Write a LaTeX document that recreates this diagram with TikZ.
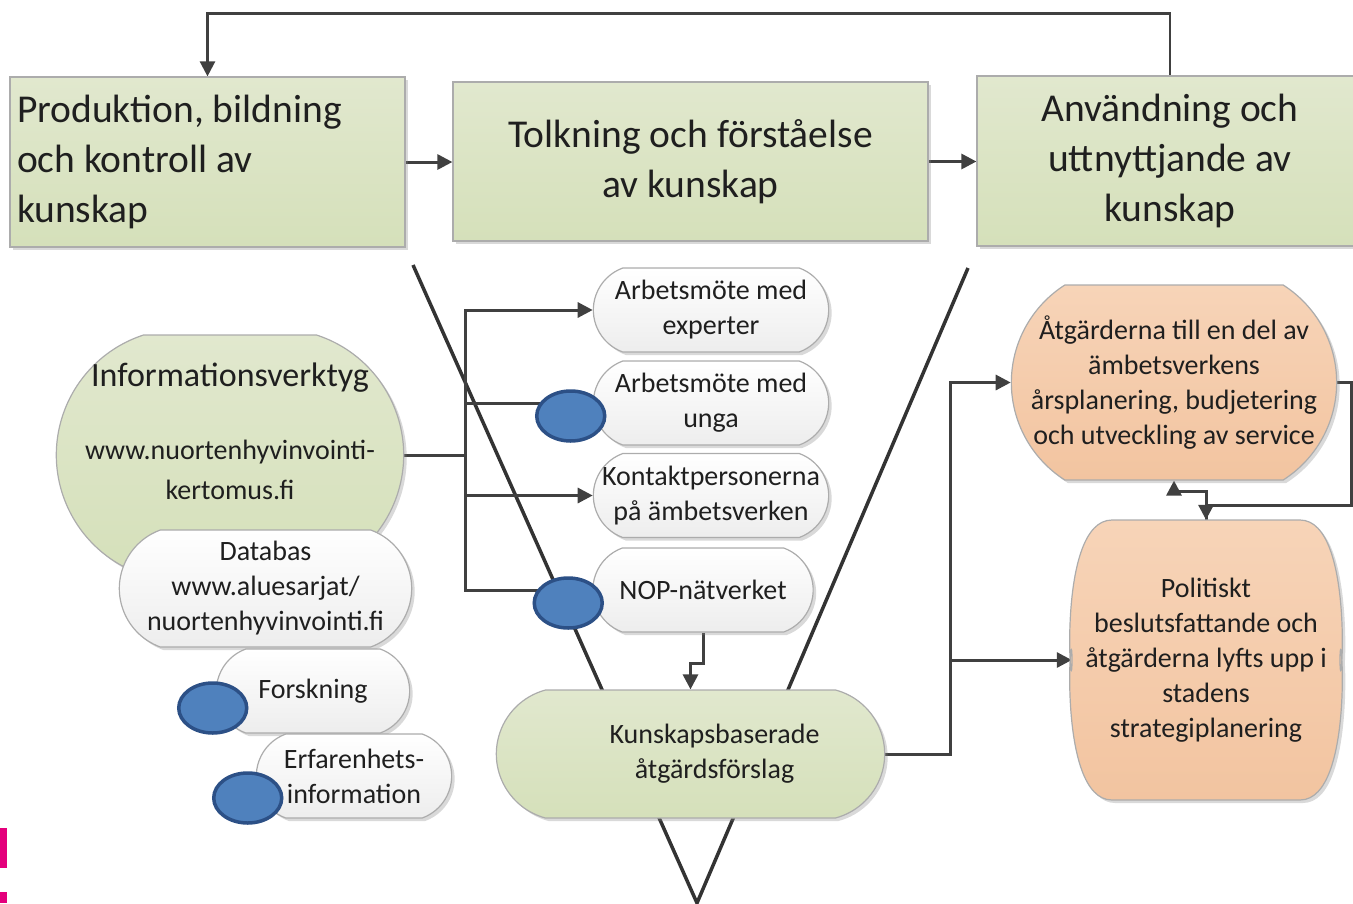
\documentclass[tikz,border=0pt]{standalone}
\usepackage{fontspec}
\setmainfont{Carlito}
\usetikzlibrary{arrows.meta,backgrounds,shadows,shapes.geometric,shapes.misc}
\definecolor{StageGreen}{RGB}{213,224,186}
\definecolor{StageTop}{RGB}{225,232,206}
\definecolor{ActionOrange}{RGB}{242,196,160}
\definecolor{ActionTop}{RGB}{247,212,184}
\definecolor{DotBlue}{RGB}{79,129,189}
\definecolor{DotRim}{RGB}{44,80,134}
\definecolor{Wire}{RGB}{64,64,64}
\definecolor{Marker}{RGB}{228,0,124}

\begin{document}
\begin{tikzpicture}[
  x=1pt,y=-1pt,
  font=\fontsize{28}{35}\selectfont,
  link/.style={line width=3pt,draw=Wire},
  line/.style={link,-{Triangle[length=15pt,width=15pt]}},
  vee/.style={line width=3.5pt,draw=black!80},
  component/.style={draw=gray!65,line width=1.2pt,text=black!88,drop shadow={shadow xshift=3pt,shadow yshift=-3pt,opacity=.3}},
  caption/.style={align=center,text=black!88},
  stage/.style={component,rectangle,top color=StageTop,bottom color=StageGreen,font=\fontsize{39.5}{50}\selectfont,align=center,inner sep=7pt},
  green pill/.style={component,rounded rectangle,top color=StageTop,bottom color=StageGreen},
  pill/.style={component,rounded rectangle,rounded rectangle arc length=140,top color=white,bottom color=gray!14,minimum width=242pt,minimum height=84pt},
  action/.style={component,top color=ActionTop,bottom color=ActionOrange},
  dot/.style={ellipse,draw=DotRim,fill=DotBlue,line width=3.5pt,minimum width=68pt,minimum height=50pt,inner sep=0pt}
]
\useasboundingbox (0,0) rectangle (1353,903);

% three stages
\node[stage,minimum width=395pt,minimum height=170pt,align=flush left,text width=381pt] (prod) at (207.5,162) {Produktion, bildning\\och kontroll av\\kunskap};
\node[stage,minimum width=475pt,minimum height=159pt] (tolk) at (690.5,161.5) {Tolkning och förståelse\\av kunskap};
\node[stage,minimum width=386pt,minimum height=170pt] (anv) at (1170,161) {Användning och\\uttnyttjande av\\kunskap};

% sources
\node[green pill,rounded rectangle arc length=144,minimum width=354pt,minimum height=240pt,
  label={[caption,yshift=24pt,font=\fontsize{28}{40}\selectfont]center:{\fontsize{34}{40}\selectfont Informationsverktyg}\\[33pt]www.nuortenhyvinvointi-\\kertomus.fi}] (info) at (230,455) {};
\node[pill,rounded rectangle arc length=140,minimum width=299pt,minimum height=117pt,
  label={[caption]center:Databas\\www.aluesarjat/\\nuortenhyvinvointi.fi}] (databas) at (265.5,588.5) {};
\node[pill,minimum width=200pt,label={[caption]center:Forskning}] (forskning) at (313,691) {};
\node[pill,minimum width=202pt,label={[caption]center:Erfarenhets-\\information}] (erfarenhet) at (354,776) {};

% meetings and networks
\node[pill,label={[caption]center:Arbetsmöte med\\experter}] (expert) at (711,310) {};
\node[pill,label={[caption]center:Arbetsmöte med\\unga}] (unga) at (711,403) {};
\node[pill,label={[caption]center:Kontaktpersonerna\\på ämbetsverken}] (kontakt) at (711,495.5) {};
\node[pill,minimum width=227pt,label={[caption]center:NOP-nätverket}] (nop) at (703,590) {};

\node[green pill,rounded rectangle arc length=150,minimum width=395pt,minimum height=128pt,
  label={[caption,xshift=24pt]center:Kunskapsbaserade\\åtgärdsförslag}] (kunskap) at (690.5,754) {};

% use of knowledge
\node[action,rounded rectangle,rounded rectangle arc length=115,minimum width=332pt,minimum height=195pt,
  label={[caption]center:Åtgärderna till en del av\\ämbetsverkens\\årsplanering, budjetering\\och utveckling av service}] (atgard) at (1174,382.5) {};
% tall box with bulging sides
\draw[action] (1112,520) -- (1300,520) to[out=0,in=-90] (1340,660) to[out=90,in=0] (1300,800)
  -- (1112,800) to[out=180,in=90] (1072,660) to[out=-90,in=180] cycle;
\node[caption,minimum width=268pt,minimum height=280pt,inner sep=0pt] (politisk) at (1206,660) {Politiskt\\beslutsfattande och\\åtgärderna lyfts upp i\\stadens\\strategiplanering};

% markers
\node[dot] (dotunga) at ([xshift=-22pt,yshift=-13pt]unga.west) {};
\node[dot] (dotnop) at ([xshift=-24pt,yshift=-13pt]nop.west) {};
\node[dot] (dotforskning) at ([xshift=-3pt,yshift=-17pt]forskning.west) {};
\node[dot] (doterfarenhet) at ([xshift=-8pt,yshift=-22pt]erfarenhet.west) {};

\coordinate (vleft) at (413,265);
\coordinate (vright) at (968,268);
\coordinate (vtip) at (697,903);
\coordinate (split) at (465,455);
\coordinate (fork) at (950,754);
\coordinate (rim) at (1351,505);

\begin{scope}[on background layer]
\draw[vee] (vleft) -- (vtip) -- (vright);
\draw[line] (prod.east) -- (prod.east -| tolk.west);
\draw[line] (tolk.east) -- (tolk.east -| anv.west);
\draw[line,line width=2.5pt] (anv.north) -- ++(0,-62) -| (prod.north);
\draw[link] (info.east) -- (split);
\draw[line] (split) |- (expert.west);
\draw[link] (split) |- (unga.west);
\draw[line] (split) |- (kontakt.west);
\draw[link] (split) |- (nop.west);
\draw[line] (nop.south) -- ++(0,31) -| (kunskap.north);
\draw[line] (kunskap.east) -- (fork) |- (atgard.west);
\draw[line] (fork |- politisk.west) -- (politisk.west);
\draw[line] (atgard.east) -| (rim) -| (politisk.north);
\draw[line] (politisk.north) -- ++(0,-28) -| (atgard.south);
\end{scope}

\fill[Marker] (0,828) rectangle (7,868);
\fill[Marker] (0,892) rectangle (7,903);
\end{tikzpicture}
\end{document}
